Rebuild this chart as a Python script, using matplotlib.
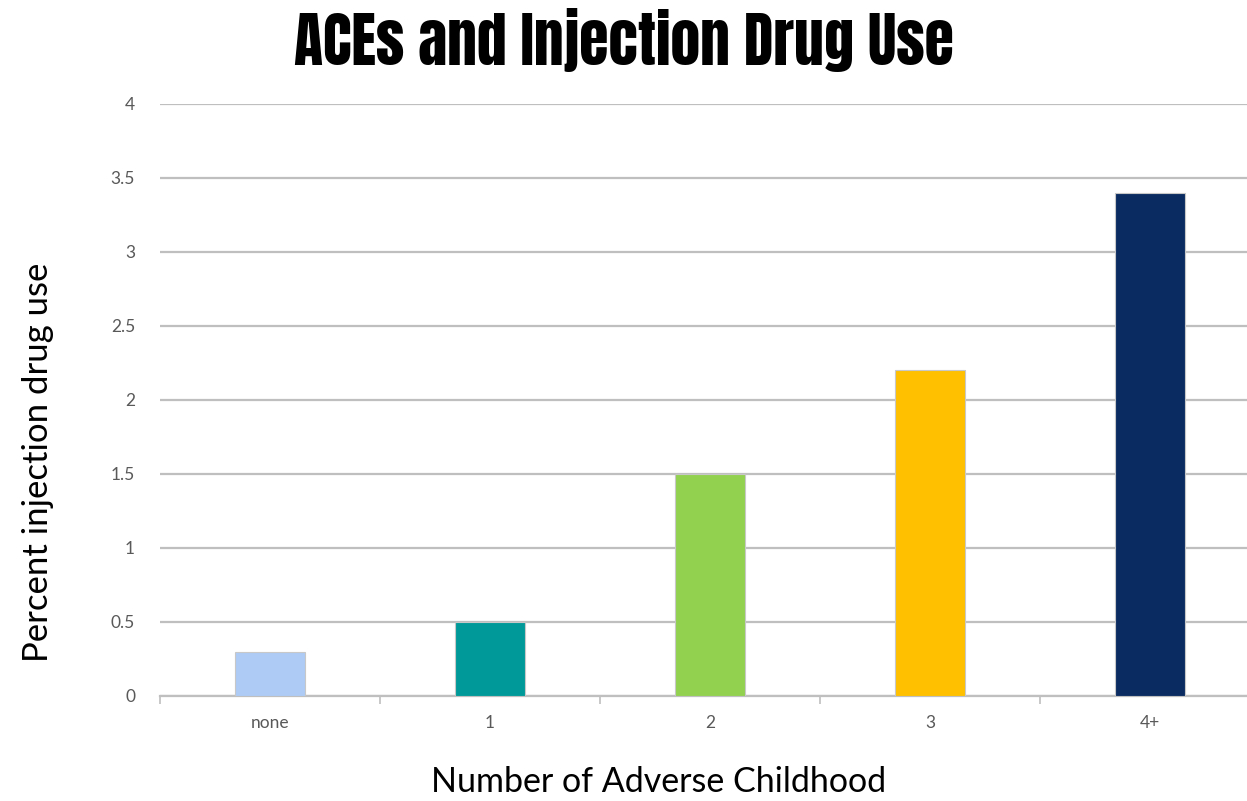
import matplotlib
matplotlib.use("Agg")
import matplotlib.pyplot as plt

categories = ["none", "1", "2", "3", "4+"]
values = [0.3, 0.5, 1.5, 2.2, 3.4]
bar_colors = ["#AECBF5", "#009999", "#92D050", "#FFC000", "#0A2B61"]
y_ticks = [0, 0.5, 1, 1.5, 2, 2.5, 3, 3.5, 4]
y_tick_labels = ["0", "0.5", "1", "1.5", "2", "2.5", "3", "3.5", "4"]

W, H = 1247, 801
fig = plt.figure(figsize=(W / 100, H / 100), dpi=100)

title_family = ["Anton", "DejaVu Sans"]
body_family = ["Lato", "DejaVu Sans"]

# Plot area in pixel coordinates
left, right = 160, 1260
bottom, top = 696, 104
ax = fig.add_axes([left / W, 1 - bottom / H, (right - left) / W, (bottom - top) / H])

x = list(range(len(categories)))
ax.bar(x, values, width=0.314, color=bar_colors, edgecolor="#C8C8C8", linewidth=0.8, zorder=3)

ax.set_xlim(-0.5, len(categories) - 0.5)
ax.set_ylim(0, 4)
ax.set_yticks(y_ticks)
ax.set_yticklabels(y_tick_labels)
ax.yaxis.grid(True, color="#BFBFBF", linewidth=1.6, zorder=0)
ax.set_axisbelow(True)

for s in ["top", "right", "left"]:
    ax.spines[s].set_visible(False)
ax.spines["bottom"].set_color("#BFBFBF")
ax.spines["bottom"].set_linewidth(1.6)

ax.tick_params(axis="y", length=0, pad=18, labelsize=12.5, labelcolor="#595959")
ax.set_xticks(x)
ax.set_xticklabels(categories)
ax.tick_params(axis="x", length=0, pad=14, labelsize=12.5, labelcolor="#595959")
for lab in ax.get_xticklabels() + ax.get_yticklabels():
    lab.set_fontfamily(body_family)

# Category boundary tick marks below the axis
ax.set_xticks([i - 0.5 for i in range(len(categories) + 1)], minor=True)
ax.tick_params(axis="x", which="minor", length=6, width=1.2, color="#BFBFBF", direction="out")

fig.text(624 / W, 1 - 40 / H, "ACEs and Injection Drug Use", ha="center", va="center",
         fontsize=43, family=title_family, color="black")
fig.text(38 / W, 1 - 462 / H, "Percent injection drug use", ha="center", va="center",
         rotation=90, fontsize=25, family=body_family, color="black")
fig.text(659 / W, 1 - 782 / H, "Number of Adverse Childhood", ha="center", va="center",
         fontsize=24.5, family=body_family, color="black")

fig.savefig("out.png", dpi=100)
